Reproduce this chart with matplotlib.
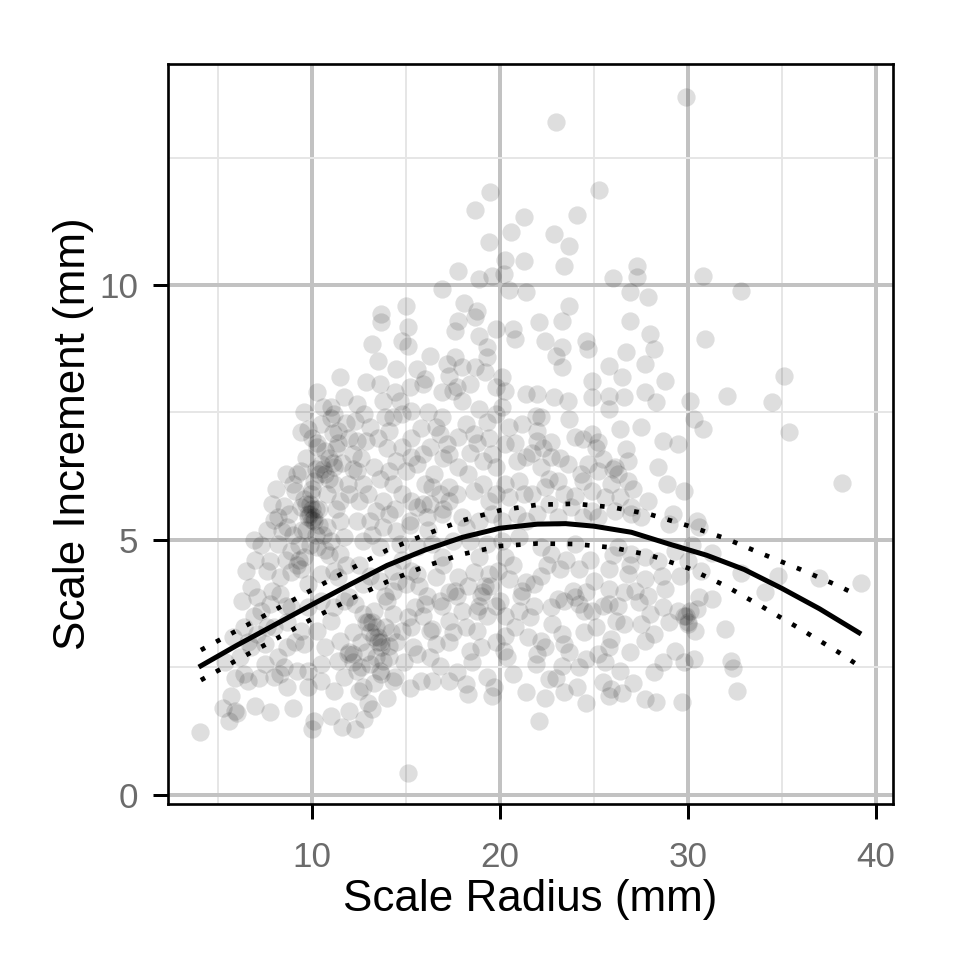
import numpy as np
import matplotlib.pyplot as plt
from matplotlib.ticker import MultipleLocator

plt.rcParams['font.family'] = ['Liberation Sans', 'DejaVu Sans']

# scale radius (mm) / scale increment (mm)
radius = [
    29.9, 23.0, 25.3, 24.1, 22.9, 23.7, 23.4, 26.0, 27.3, 27.3, 30.8, 26.9, 27.9, 23.7, 32.8,
    19.5, 18.7, 21.3, 20.6, 19.4, 20.3, 21.3, 17.8, 18.9, 19.6, 20.2, 20.5, 21.4, 16.9, 18.1, 18.8, 15.0, 13.7,
    35.1, 32.1, 34.5, 35.4, 38.2, 39.2, 37.0, 34.8, 32.8, 34.1, 32.0, 32.3, 32.4, 32.6, 31.3, 31.3,
    22.1, 23.3, 26.9, 22.4, 23.3, 24.6, 24.7, 23.0, 23.3, 28.0, 28.2, 26.7, 25.8, 27.7, 26.5, 24.9, 28.8, 30.9,
    22.0, 22.9, 23.6, 24.9, 25.8, 26.6, 27.7, 28.3, 30.1, 25.8, 21.9, 22.2, 23.7, 30.3, 30.8, 22.0, 22.0, 22.7,
    24.0, 24.4, 24.9, 25.2, 26.4, 27.5, 28.7, 29.5, 26.7, 21.7, 22.2, 22.7, 23.6, 24.7, 25.5, 25.2, 26.1, 26.3,
    26.8, 26.8, 28.4, 28.9, 29.8, 21.7, 22.4, 23.1, 24.4, 23.4, 24.0, 24.9, 25.6, 25.9, 26.4, 27.9, 27.0, 26.1,
    24.9, 23.8, 22.6, 22.0, 23.1, 24.4, 25.2, 27.0, 27.5, 29.2, 29.0, 30.5, 30.6, 24.0, 22.2, 22.7, 26.3, 27.0,
    27.7, 28.4, 29.3, 30.0,
    13.7, 15.1, 17.8, 18.7, 17.6, 18.9, 19.8, 20.7, 20.8, 19.3, 15.1, 13.2, 13.5, 14.5, 15.6, 16.0, 15.9, 12.9,
    13.6, 17.6, 17.2, 18.0, 18.7, 19.3, 17.3, 18.4, 17.5, 18.0, 19.8, 20.3, 20.1, 21.4, 18.9, 19.3, 19.8, 20.5,
    21.2, 18.2, 18.6, 17.8, 16.9, 16.6, 16.8, 17.2, 17.3, 17.8, 18.3, 19.1, 19.6, 19.8, 20.3, 20.9, 21.4, 21.0,
    20.3, 19.8, 19.1, 18.6, 19.4, 20.5, 21.3,
    12.4, 12.8, 12.3, 13.1, 12.4, 12.9, 12.2, 13.3, 12.4, 12.7, 12.0, 12.5, 13.9, 14.3, 14.1, 14.8, 15.3, 14.7,
    13.8, 14.8, 15.3, 14.5, 14.1, 15.0, 15.6, 15.9, 16.3, 14.3, 14.8, 15.3, 15.6, 15.9, 16.4, 16.8, 17.3, 13.8,
    13.4, 14.1, 13.1, 13.8, 14.5, 15.2, 16.1, 16.9, 17.3, 18.0, 18.2, 18.9, 19.6, 20.1, 20.9, 21.4, 12.4, 12.7,
    13.6, 14.7, 15.6, 16.4, 17.5, 18.4, 19.3, 20.1, 21.0, 16.9, 18.9, 20.3,
    9.9, 10.0, 9.8, 9.4, 10.1, 8.5, 8.7, 8.2, 8.9, 9.6, 10.3, 11.0, 11.5, 7.8, 9.4, 10.1, 10.7, 11.2, 10.8, 11.5,
    9.95, 9.8, 10.5, 10.7, 11.4, 11.0, 11.7, 11.2, 10.5, 11.2, 11.5, 10.8, 11.7, 9.1, 8.2, 8.4, 9.4, 9.2, 10.3,
    6.5, 7.0, 7.3, 6.9, 7.6, 8.0, 7.9,
    4.05, 5.6, 5.9, 5.7, 7.0, 7.75, 9.0, 10.0, 10.1, 6.6, 8.0, 11.0, 11.6, 6.75, 15.1,
    12.5, 13.2, 12.8, 12.3, 12.0, 15.8, 16.4, 17.3, 18.3, 18.2, 19.3, 19.6, 19.7, 16.8, 17.7, 20.7, 21.4, 20.2,
    18.4, 17.3, 15.6, 14.4, 13.7, 13.8, 13.1, 12.2, 13.5, 14.1, 15.3, 15.1, 16.3, 16.6, 17.3,
    19.1, 17.7, 17.3, 16.6, 16.0, 15.5, 16.4, 18.8, 19.3, 19.8, 20.3, 20.4, 21.0, 21.6, 21.4, 20.5, 19.4, 18.6, 17.8,
    13.1, 13.5, 13.2, 13.7, 13.6, 14.3, 12.3, 12.7, 14.0, 14.3, 14.8, 14.1, 12.4, 12.7,
    12.0, 12.7, 13.6, 14.3, 15.0, 15.6, 14.3,
    7.6, 8.3, 8.9, 9.4, 9.8, 10.5, 11.4, 7.1, 7.8, 8.3, 8.9, 9.8, 10.5, 11.2, 11.7, 6.4, 7.1, 6.75, 7.5, 8.0,
    8.7, 9.4, 9.6, 10.3, 11.0, 11.5, 10.7, 8.7, 8.2, 7.5, 6.4, 8.3, 9.2, 9.8, 10.5, 11.4, 11.9, 9.8, 10.5, 11.2,
    11.7, 8.7,
    22.1, 23.4, 24.1, 22.6, 23.3, 24.2, 24.6, 25.2, 25.8, 25.9, 25.5, 25.9, 25.8, 26.4, 27.7, 28.3, 28.2, 29.7,
    29.3, 30.3, 29.9, 30.0, 30.1, 29.5, 30.4, 30.5, 27.7, 28.2, 27.5, 26.6, 26.2, 25.8, 25.8, 25.5, 26.8, 27.7,
    28.8, 28.7, 28.0, 27.4, 26.6, 24.9, 24.6, 24.0, 24.2, 23.4, 23.1, 22.7, 22.8, 23.3, 23.4, 23.7, 22.2, 22.0,
    21.9, 21.8, 23.2, 24.2, 25.8, 22.2, 30.6,
    8.6, 9.0, 9.3, 9.7, 10.2, 10.4, 9.6, 10.0, 9.7, 10.2, 10.9, 11.3, 10.0, 10.6, 11.1, 11.8, 11.6, 11.9,
    11.3, 10.6, 9.2, 8.8, 9.0, 8.6, 8.1, 10.9, 11.8, 11.2, 10.3, 11.5, 12.0, 12.2, 9.6, 10.4, 9.9, 10.1,
    12.6, 12.9, 13.3, 13.9, 14.5, 14.9, 15.4, 15.9, 16.1, 15.7, 14.6, 13.9, 13.1, 12.5, 12.9, 12.2, 14.8, 15.3,
    13.4, 16.3, 15.2, 14.0, 13.0, 13.3,
    16.9, 17.5, 18.0, 18.3, 18.9, 19.5, 19.9, 20.7, 21.2, 21.8, 20.8, 19.8, 18.5, 19.0, 17.0, 20.0, 21.5, 18.2,
    16.5, 17.0, 16.2, 16.9, 17.7, 18.4, 18.8, 19.4, 20.1, 20.8, 17.0, 17.7, 16.2, 19.2, 16.3, 15.2, 14.8,
    22.5, 23.5, 24.8, 25.0, 26.0, 26.9, 27.2, 27.9, 28.6, 29.0, 29.6, 30.2, 30.7, 26.3, 25.1, 24.5, 25.6, 26.9,
    27.1, 28.7, 29.8, 23.0, 22.4, 24.6, 26.5,
    5.4, 5.9, 6.2, 6.6, 6.9, 7.3, 7.6, 7.9, 6.3, 5.8, 7.2, 8.5, 6.0, 5.3, 8.6, 9.1,
    12.6, 13.0, 13.6, 14.0, 13.5, 14.4, 15.3, 15.8, 16.0, 14.4, 15.2, 16.3, 13.2,
    # darker clusters
    9.8, 10.0, 10.2, 9.7, 10.4, 10.6, 10.9, 11.1, 10.3, 9.5, 9.9, 10.7, 11.4, 9.3, 11.0,
    12.0, 12.2, 13.3, 13.4, 13.0, 13.7, 12.6, 14.2,
    19.0, 19.2, 18.8, 20.3, 21.1, 16.8, 17.6, 23.9, 24.5, 22.4, 30.0, 29.8,
    22.3, 22.6, 23.2, 24.3, 25.1, 27.1, 26.0,
]
increment = [
    13.69, 13.2, 11.86, 11.37, 11.0, 10.76, 10.37, 10.14, 10.37, 10.16, 10.18, 9.86, 9.76, 9.59, 9.88,
    11.82, 11.47, 11.33, 11.04, 10.84, 10.49, 10.47, 10.27, 10.12, 10.18, 10.22, 9.9, 9.86, 9.92, 9.65, 9.49, 9.59, 9.43,
    8.22, 7.82, 7.71, 7.12, 6.12, 4.16, 4.25, 4.29, 4.35, 3.98, 3.25, 2.63, 2.49, 2.04, 3.84, 4.75,
    9.27, 9.29, 9.29, 8.9, 8.78, 8.9, 8.75, 8.61, 8.39, 9.04, 8.75, 8.69, 8.41, 8.45, 8.2, 8.12, 8.12, 8.94,
    7.86, 7.8, 7.73, 7.8, 7.82, 7.8, 7.9, 7.71, 7.73, 7.57, 7.43, 7.41, 7.37, 7.37, 7.18, 7.14, 6.94, 6.92,
    7.02, 6.98, 7.08, 6.92, 7.18, 7.22, 6.94, 6.88, 6.78, 6.7, 6.43, 6.63, 6.49, 6.49, 6.59, 6.35, 6.43, 6.29,
    6.55, 6.16, 6.43, 6.1, 5.96, 5.9, 6.04, 6.16, 6.16, 5.9, 5.86, 5.96, 5.84, 6.1, 5.84, 5.76, 5.65, 5.57,
    5.57, 5.65, 5.71, 5.51, 5.45, 5.45, 5.45, 5.51, 5.45, 5.51, 5.31, 5.37, 5.25, 4.92, 4.86, 4.73, 4.86, 4.73,
    4.67, 4.59, 4.78, 4.59,
    9.27, 9.18, 9.29, 9.37, 9.1, 9.0, 9.14, 9.14, 8.94, 8.78, 8.8, 8.84, 8.51, 8.35, 8.35, 8.16, 8.06, 8.1,
    8.06, 8.59, 8.45, 8.39, 8.39, 8.59, 8.22, 8.06, 7.92, 7.73, 8.0, 7.92, 8.2, 7.86, 7.57, 7.31, 7.47, 7.22,
    7.27, 7.27, 7.08, 7.02, 7.41, 7.22, 7.08, 6.88, 6.69, 6.43, 6.29, 6.55, 6.69, 6.43, 6.88, 6.55, 6.63, 6.16,
    6.1, 5.9, 6.1, 5.96, 5.76, 5.84, 5.9,
    7.67, 7.47, 7.33, 7.22, 6.94, 6.94, 6.69, 6.43, 6.35, 6.1, 5.9, 5.76, 7.41, 7.41, 7.14, 7.47, 7.53, 7.73,
    7.73, 6.82, 6.63, 6.55, 6.35, 6.35, 6.49, 6.69, 6.82, 6.1, 5.9, 5.76, 5.65, 5.71, 6.04, 5.9, 6.04, 5.76,
    5.57, 5.51, 5.37, 5.25, 5.18, 5.37, 5.45, 5.51, 5.76, 5.45, 5.25, 5.37, 5.51, 5.37, 5.51, 5.37, 5.37, 4.98,
    4.86, 4.92, 4.86, 4.92, 4.98, 4.98, 4.92, 4.98, 5.06, 4.67, 4.67, 4.67,
    5.51, 5.6, 5.45, 5.65, 5.37, 5.67, 5.25, 4.92, 4.78, 4.67, 4.86, 4.98, 4.73, 4.59, 6.35, 6.16, 6.29, 6.43, 5.9, 5.76,
    5.9, 7.18, 7.27, 6.75, 7.14, 7.61, 7.8, 7.47, 6.49, 6.1, 5.37, 5.25, 5.06, 5.96, 5.45, 5.18, 7.12, 6.29, 6.82,
    4.4, 4.6, 4.9, 5.0, 5.2, 5.4, 5.7,
    1.24, 1.45, 1.65, 1.94, 1.75, 1.63, 1.7, 1.3, 1.45, 2.24, 2.31, 1.55, 1.33, 4.08, 0.43,
    2.04, 1.69, 1.49, 1.29, 1.65, 2.24, 2.24, 2.24, 1.98, 2.18, 2.31, 1.94, 2.12, 2.53, 2.41, 2.37, 2.02, 2.82,
    2.82, 3.0, 2.76, 2.31, 2.37, 2.63, 2.57, 2.76, 3.1, 2.92, 3.29, 3.49, 3.22, 2.96, 3.41,
    3.98, 3.9, 3.98, 4.27, 3.75, 3.69, 3.25, 3.22, 3.51, 3.71, 3.12, 2.71, 3.61, 3.49, 4.18, 4.24, 4.33, 4.37, 4.27,
    3.2, 3.0, 3.4, 2.9, 2.43, 2.24, 3.75, 3.55, 3.8, 3.55, 3.22, 2.71, 2.43, 2.12,
    3.88, 4.14, 4.2, 4.0, 4.14, 4.33, 4.39,
    4.39, 4.27, 4.37, 4.43, 4.14, 4.33, 4.27, 3.88, 3.75, 3.94, 3.69, 3.69, 3.8, 3.69, 3.8, 3.29, 3.16, 2.9, 2.96, 3.29,
    3.39, 3.22, 2.96, 3.22, 3.41, 3.02, 2.9, 2.9, 2.71, 2.57, 2.37, 2.37, 2.43, 2.43, 2.57, 2.63, 2.76, 2.12, 2.24, 2.04,
    2.31, 2.12,
    1.45, 2.02, 2.12, 2.27, 2.53, 2.51, 2.67, 2.76, 2.9, 3.06, 2.22, 2.08, 1.94, 2.43, 1.88, 1.82, 2.41, 1.82,
    2.82, 2.67, 3.5, 3.35, 3.6, 3.61, 3.22, 3.65, 3.02, 3.16, 3.35, 3.35, 3.41, 4.04, 3.75, 3.71, 4.33, 4.24,
    4.04, 3.69, 3.55, 3.78, 3.98, 3.61, 3.98, 3.88, 3.75, 3.8, 3.84, 3.69, 3.35, 3.16, 2.96, 2.8, 3.02, 2.76,
    2.57, 4.14, 4.43, 4.43, 4.43, 4.29, 3.88,
    4.6, 5.1, 4.9, 5.2, 5.1, 5.6, 5.8, 6.0, 6.6, 6.4, 6.6, 6.8, 7.0, 7.6, 7.1, 7.3, 6.5, 6.1,
    5.6, 5.1, 4.5, 5.5, 6.1, 6.3, 6.0, 4.7, 4.5, 4.4, 7.9, 8.2, 7.0, 6.4, 7.5, 5.3, 5.7, 5.45,
    3.0, 2.8, 3.6, 3.3, 3.0, 2.6, 2.9, 3.5, 3.9, 4.1, 4.2, 3.9, 4.3, 4.5, 3.4, 3.2, 4.6, 4.4,
    2.7, 2.7, 2.1, 1.9, 1.8, 2.2,
    3.7, 3.2, 3.6, 4.1, 3.7, 4.1, 4.4, 4.5, 4.0, 3.7, 3.3, 3.0, 2.6, 2.9, 4.5, 3.8, 3.1, 3.3,
    6.3, 6.6, 7.5, 7.9, 8.0, 6.7, 6.9, 7.0, 7.6, 6.9, 5.6, 5.9, 5.2, 8.3, 8.6, 8.0, 8.9,
    4.5, 4.6, 4.6, 4.2, 4.7, 4.5, 4.0, 3.9, 4.3, 3.4, 4.3, 4.9, 4.4, 3.7, 3.3, 3.2, 2.6, 2.8,
    2.2, 2.6, 2.6, 2.3, 1.9, 1.8, 2.0,
    2.6, 2.3, 2.7, 3.0, 3.5, 3.6, 3.3, 4.0, 3.8, 3.1, 2.3, 2.5, 1.6, 1.7, 3.7, 3.0,
    6.6, 5.9, 6.2, 6.8, 7.0, 7.9, 7.0, 7.2, 6.1, 5.6, 5.3, 5.7, 5.1,
    5.5, 5.4, 5.6, 5.7, 6.3, 6.4, 6.2, 6.5, 6.9, 5.2, 4.9, 4.8, 6.9, 4.6, 7.4,
    2.8, 2.6, 3.1, 3.3, 3.4, 3.0, 2.5, 3.2,
    3.9, 4.1, 3.6, 3.5, 3.9, 3.8, 4.0, 4.0, 3.6, 2.9, 3.4, 3.5,
    6.8, 6.2, 6.6, 6.3, 6.8, 6.0, 6.4,
]

# fitted trend and its confidence band
fit_x = [4.1, 6, 8, 10, 12, 14, 16, 18, 20, 22, 23.5, 25, 27, 29, 31, 33, 35, 37, 39.1]
fit_y = [2.53, 2.93, 3.33, 3.73, 4.12, 4.5, 4.8, 5.05, 5.23, 5.31, 5.32, 5.27, 5.15, 4.92, 4.7, 4.42, 4.05, 3.65, 3.18]
ci_x = [4.1, 6, 8, 10, 12, 14, 16, 18, 20, 22, 24, 26, 28, 30, 32, 34, 36, 38, 39.1]
ci_hi = [2.84, 3.22, 3.62, 4.02, 4.42, 4.8, 5.1, 5.38, 5.58, 5.69, 5.71, 5.64, 5.5, 5.28, 5.03, 4.72, 4.42, 4.1, 3.9]
ci_lo = [2.25, 2.64, 3.04, 3.45, 3.83, 4.18, 4.48, 4.72, 4.88, 4.93, 4.92, 4.85, 4.7, 4.45, 4.1, 3.68, 3.25, 2.8, 2.53]

fig = plt.figure(figsize=(4, 4), dpi=240)
ax = fig.add_axes([0.175, 0.1625, 0.755, 0.7705])

ax.scatter(radius, increment, s=30, color='black', alpha=0.13, linewidths=0, zorder=3)
ax.plot(fit_x, fit_y, color='black', lw=1.5, zorder=4)
for band in (ci_hi, ci_lo):
    ax.plot(ci_x, band, color='black', lw=1.4, linestyle=(0, (1, 2.7)), zorder=4)

ax.set_xlim(2.35, 40.9)
ax.set_ylim(-0.18, 14.33)
ax.xaxis.set_major_locator(MultipleLocator(10))
ax.xaxis.set_minor_locator(MultipleLocator(5))
ax.yaxis.set_major_locator(MultipleLocator(5))
ax.yaxis.set_minor_locator(MultipleLocator(2.5))
ax.grid(which='major', color='#c2c2c2', lw=1.2, zorder=0)
ax.grid(which='minor', color='#e6e6e6', lw=0.6, zorder=0)
ax.set_axisbelow(True)
ax.tick_params(which='major', length=4.5, width=0.9, color='black',
               labelsize=10.5, labelcolor='#6b6b6b')
ax.tick_params(axis='x', pad=6.5)
ax.tick_params(axis='y', pad=4.5)
ax.tick_params(which='minor', length=0)
for s in ax.spines.values():
    s.set_linewidth(0.8)
    s.set_color('black')

ax.set_xlabel('Scale Radius (mm)', fontsize=13.2, labelpad=1.5)
ax.set_ylabel('Scale Increment (mm)', fontsize=13.2, labelpad=1.6)

fig.savefig('out.png', dpi=240)
